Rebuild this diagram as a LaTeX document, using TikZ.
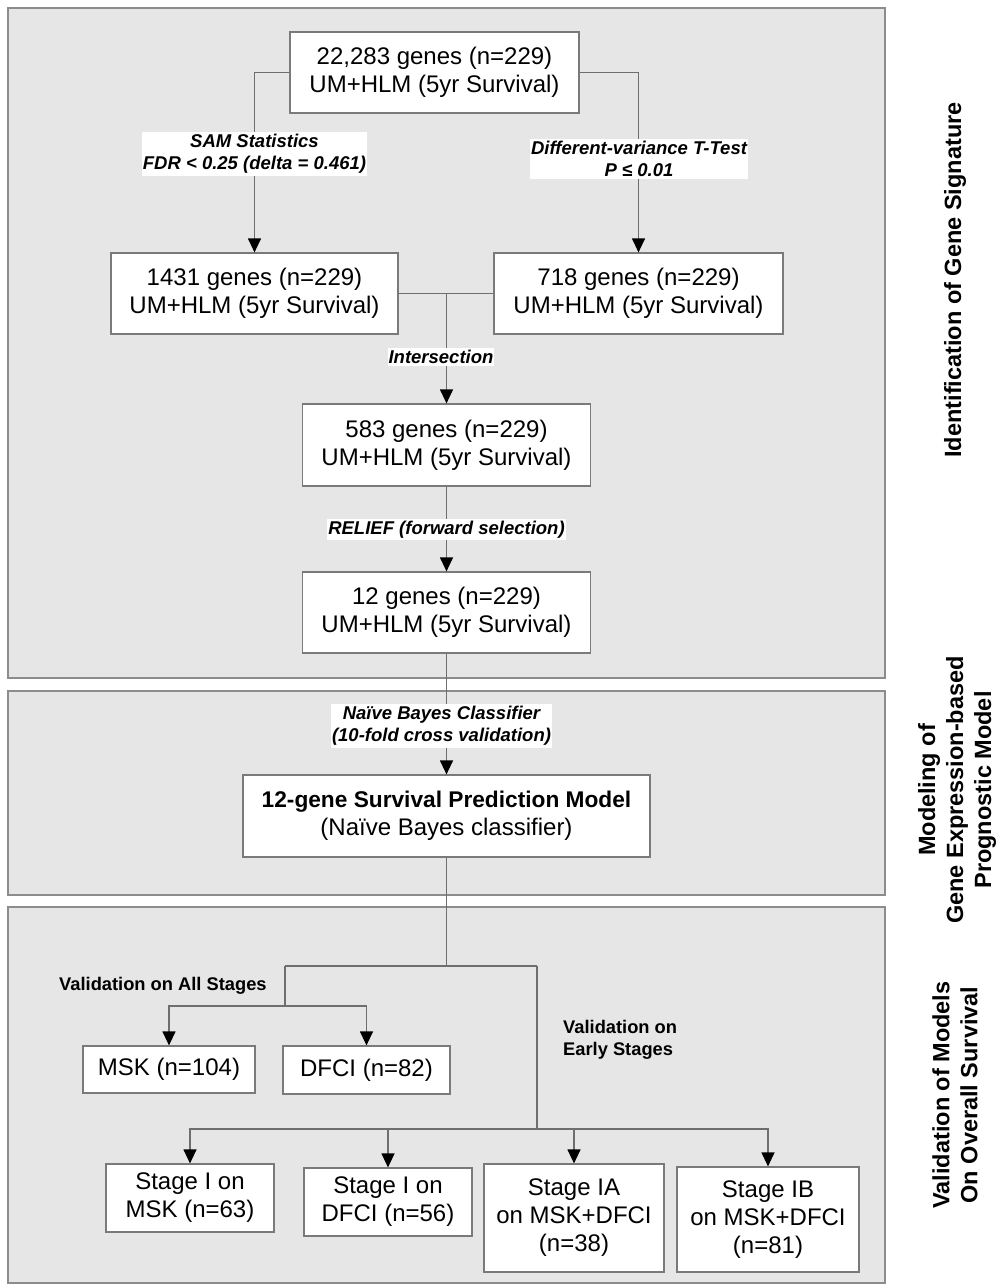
\documentclass[tikz,border=0pt]{standalone}
\usepackage{fontspec}
\setmainfont{Liberation Sans}
\usetikzlibrary{arrows.meta}
\definecolor{panelfill}{HTML}{E6E6E6}
\definecolor{panelline}{HTML}{8C8C8C}
\definecolor{boxline}{HTML}{7A7A7A}
\definecolor{connline}{HTML}{6E6E6E}
\begin{document}
\begin{tikzpicture}[x=1pt,y=-1pt,
  panel/.style={draw=panelline, fill=panelfill, line width=1.2pt},
  box/.style={draw=boxline, fill=white, line width=1.2pt, align=center, inner sep=0pt, font=\fontsize{24}{28}\selectfont},
  lbl/.style={fill=white, align=center, inner xsep=1pt, inner ysep=2pt, font=\fontsize{18.5}{22}\selectfont\bfseries\itshape},
  sec/.style={align=left, inner sep=0pt, font=\fontsize{18.3}{22}\selectfont\bfseries},
  side/.style={rotate=90, align=center, inner sep=0pt, font=\fontsize{23.5}{28}\selectfont\bfseries},
  conn/.style={draw=connline, line width=1.2pt},
  arr/.style={conn, -{Triangle[length=14pt,width=13pt,color=black]}}
]
\useasboundingbox (0,0) rectangle (997,1288);
% panels
\path[panel] (8,8) rectangle (885,678);
\path[panel] (8,691) rectangle (885,895);
\path[panel] (8,907) rectangle (885,1283);

% boxes
\node[box, minimum width=289pt, minimum height=81pt] (top) at (434.5,72.5) {22,283 genes (n=229)\\UM+HLM (5yr Survival)};
\node[box, minimum width=287pt, minimum height=81pt] (g1431) at (254.5,293.5) {1431 genes (n=229)\\UM+HLM (5yr Survival)};
\node[box, minimum width=289pt, minimum height=81pt] (g718) at (638.5,293.5) {718 genes (n=229)\\UM+HLM (5yr Survival)};
\node[box, minimum width=288pt, minimum height=82pt] (g583) at (446.5,445) {583 genes (n=229)\\UM+HLM (5yr Survival)};
\node[box, minimum width=288pt, minimum height=81pt] (g12) at (446.5,612.5) {12 genes (n=229)\\UM+HLM (5yr Survival)};
\node[box, minimum width=407pt, minimum height=82pt] (model) at (446.5,816) {{\fontsize{22.7}{28}\selectfont\bfseries 12-gene Survival Prediction Model}\\(Naïve Bayes classifier)};
\node[box, minimum width=172pt, minimum height=47pt] (msk) at (169,1069.5) {MSK (n=104)};
\node[box, minimum width=167pt, minimum height=48pt] (dfci) at (366.5,1070) {DFCI (n=82)};
\node[box, minimum width=168pt, minimum height=68pt] (s1) at (190,1198) {Stage I on\\MSK (n=63)};
\node[box, minimum width=168pt, minimum height=68pt] (s2) at (388,1202) {Stage I on\\DFCI (n=56)};
\node[box, minimum width=180pt, minimum height=108pt] (s3) at (574,1218) {Stage IA\\on MSK+DFCI\\(n=38)};
\node[box, minimum width=182pt, minimum height=105pt] (s4) at (768,1219.5) {Stage IB\\on MSK+DFCI\\(n=81)};

% connectors
\draw[arr] (top.west) -| (g1431.north);
\draw[arr] (top.east) -| (g718.north);
\draw[conn] (g1431.east) -- (g718.west);
\coordinate (jx) at (g583.north |- g1431.east);
\draw[arr] (jx) -- (g583.north);
\draw[arr] (g583.south) -- (g12.north);
\draw[arr] (g12.south) -- (model.north);
\coordinate (vj) at (446.5,966);
\coordinate (vl) at (285,966);
\coordinate (vr) at (537,966);
\draw[conn] (model.south) -- (vj);
\draw[conn] (vl) -- (vr);
\coordinate (al) at (285,1006);
\draw[conn] (vl) -- (al);
\draw[arr] (al) -| (msk.north);
\draw[arr] (al) -| (dfci.north);
\coordinate (ar) at (537,1129);
\draw[conn] (vr) -- (ar);
\draw[arr] (ar) -| (s1.north);
\draw[arr] (ar) -| (s2.north);
\draw[arr] (ar) -| (s3.north);
\draw[arr] (ar) -| (s4.north);

% labels on connectors
\node[lbl] (lsam) at (254.5,154) {SAM Statistics\\FDR < 0.25 (delta = 0.461)};
\node[lbl] (ldiff) at (639,159) {Different-variance T-Test\\P ≤ 0.01};
\node[lbl] (linter) at (441,357) {Intersection};
\node[lbl] (lrel) at (446.5,529.5) {RELIEF (forward selection)};
\node[lbl] (lnb) at (441.5,726) {Naïve Bayes Classifier\\(10-fold cross validation)};

% section labels
\node[sec, anchor=base west] (vall) at (59,990) {Validation on All Stages};
\node[sec, anchor=west] (vearly) at (563,1040) {Validation on\\Early Stages};

% side labels
\node[side] (side1) at (955,280) {Identification of Gene Signature};
\node[side] (side2) at (957,790) {Modeling of\\Gene Expression-based\\Prognostic Model};
\node[side] (side3) at (955,1095) {Validation of Models\\On Overall Survival};
\end{tikzpicture}
\end{document}
